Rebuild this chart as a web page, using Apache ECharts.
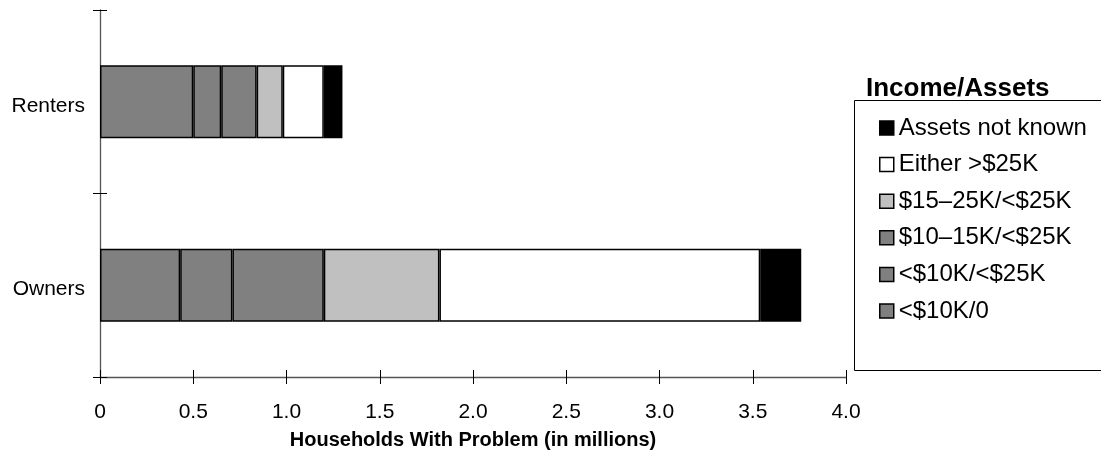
<!DOCTYPE html>
<html>
<head>
<meta charset="utf-8">
<script src="https://cdn.jsdelivr.net/npm/echarts@6/dist/echarts.min.js"></script>
<style>
html,body{margin:0;padding:0;background:#fff;}
#chart{width:1101px;height:459px;}
</style>
</head>
<body>
<div id="chart"></div>
<script>
// Categories (bottom to top on the category axis)
const categories = ['Owners', 'Renters'];
// Series values (millions of households), order: [Owners, Renters]
const lt10k_0 = [0.43, 0.50];
const lt10k_lt25k = [0.28, 0.15];
const k10_15_lt25k = [0.49, 0.19];
const k15_25_lt25k = [0.62, 0.14];
const eitherGt25k = [1.72, 0.22];
const assetsUnknown = [0.22, 0.10];
const seriesNames = ['<$10K/0', '<$10K/<$25K', '$10\u201315K/<$25K', '$15\u201325K/<$25K', 'Either >$25K', 'Assets not known'];
const seriesValues = [lt10k_0, lt10k_lt25k, k10_15_lt25k, k15_25_lt25k, eitherGt25k, assetsUnknown];
const seriesColors = ['#808080', '#808080', '#808080', '#c0c0c0', '#ffffff', '#000000'];
const xTicks = [0, 0.5, 1.0, 1.5, 2.0, 2.5, 3.0, 3.5, 4.0];

const FONT = '"Liberation Sans", Arial, sans-serif';
const chart = echarts.init(document.getElementById('chart'), null, {renderer: 'canvas'});

const series = seriesNames.map((n, i) => ({
  name: n,
  type: 'bar',
  stack: 'total',
  barWidth: 73,
  xAxisIndex: 0,
  yAxisIndex: 0,
  data: seriesValues[i],
  itemStyle: {color: seriesColors[i], borderColor: '#000', borderWidth: 1.5},
  emphasis: {disabled: true},
  silent: true
}));

const xBase = {
  type: 'value', min: xTicks[0], max: xTicks[xTicks.length - 1], interval: 0.5,
  position: 'bottom', splitLine: {show: false}
};
const yBase = {type: 'category', data: categories, position: 'left', splitLine: {show: false}};

chart.setOption({
  animation: false,
  backgroundColor: '#fff',
  textStyle: {fontFamily: FONT},
  grid: {left: 100, right: 255, top: 10, bottom: 82, containLabel: false},
  title: {
    text: 'Income/Assets', left: 866, top: 76, padding: 0,
    textStyle: {fontFamily: FONT, fontSize: 26, fontWeight: 'bold', color: '#000'}
  },
  graphic: [{
    type: 'rect', shape: {x: 854.5, y: 100.5, width: 260, height: 270},
    style: {fill: 'none', stroke: '#000', lineWidth: 1}, z: 1, silent: true
  }],
  legend: {
    orient: 'vertical', left: 879, top: 116, padding: 0,
    data: seriesNames.slice().reverse(),
    itemWidth: 14, itemHeight: 14, itemGap: 12.6,
    icon: 'rect',
    selectedMode: false,
    itemStyle: {borderColor: '#000', borderWidth: 1.5},
    textStyle: {fontFamily: FONT, fontSize: 24, color: '#000', lineHeight: 24}
  },
  xAxis: [
    Object.assign({}, xBase, {
      axisLine: {show: true, lineStyle: {color: '#555', width: 1.3}},
      axisTick: {show: true, length: 7, lineStyle: {color: '#000', width: 1}},
      axisLabel: {
        show: true, margin: 25, fontSize: 21, color: '#000', fontFamily: FONT,
        formatter: v => v === 0 ? '0' : v.toFixed(1)
      },
      name: 'Households With Problem (in millions)', nameLocation: 'middle', nameGap: 53,
      nameTextStyle: {fontFamily: FONT, fontSize: 20, fontWeight: 'bold', color: '#000'}
    }),
    Object.assign({}, xBase, {
      axisLine: {show: false},
      axisTick: {show: true, inside: true, length: 7, lineStyle: {color: '#000', width: 1}},
      axisLabel: {show: false}
    })
  ],
  yAxis: [
    Object.assign({}, yBase, {
      axisLine: {show: true, lineStyle: {color: '#555', width: 1.3}},
      axisTick: {show: true, length: 7, lineStyle: {color: '#000', width: 1}},
      axisLabel: {show: true, margin: 15, fontSize: 21, color: '#000', fontFamily: FONT, verticalAlign: 'top', lineHeight: 8}
    }),
    Object.assign({}, yBase, {
      axisLine: {show: false},
      axisTick: {show: true, inside: true, length: 7, lineStyle: {color: '#000', width: 1}},
      axisLabel: {show: false}
    })
  ],
  series: series
});
</script>
</body>
</html>
